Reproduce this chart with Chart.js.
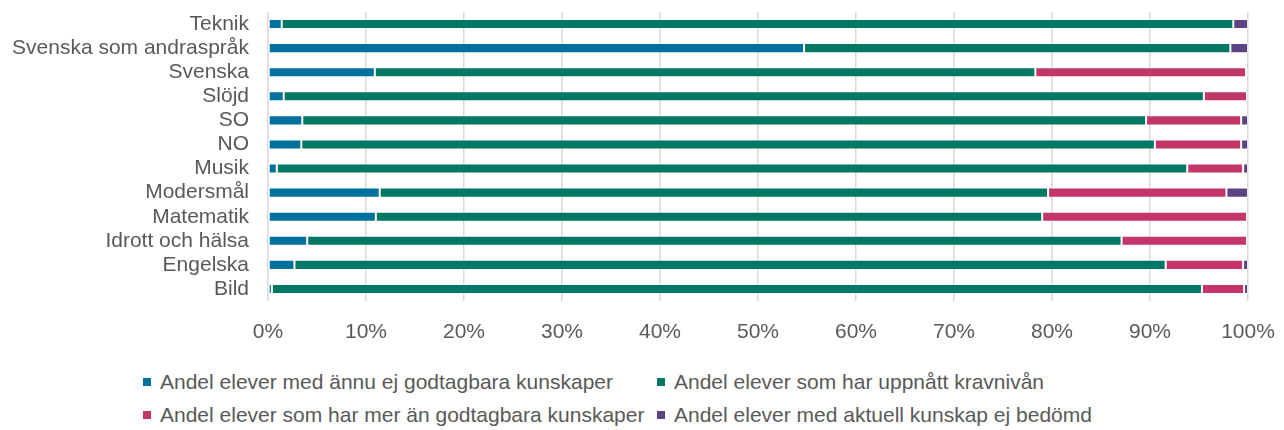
<!DOCTYPE html>
<html>
<head>
<meta charset="utf-8">
<script src="https://cdn.jsdelivr.net/npm/chart.js@4"></script>
<style>
  body { margin: 0; background: #fff; font-family: "Liberation Sans", Arial, sans-serif; }
  #wrap { position: relative; width: 1284px; height: 430px; }
  #chartBox { position: absolute; left: 0; top: 0; width: 1284px; height: 350px; }
  #legend { position: absolute; left: 143px; top: 365px; color: #595959; font-size: 21px; }
  .row { display: flex; height: 33px; align-items: center; }
  .item { display: flex; align-items: center; white-space: nowrap; }
  .item.first { width: 514px; }
  .box { width: 8px; height: 8px; margin-right: 9px; }
</style>
</head>
<body>
<div id="wrap">
  <div id="chartBox"><canvas id="barChart"></canvas></div>
  <div id="legend"></div>
</div>
<script>
const subjects = ['Teknik','Svenska som andraspråk','Svenska','Slöjd','SO','NO','Musik','Modersmål','Matematik','Idrott och hälsa','Engelska','Bild'];

const notYet   = [1.4, 54.7, 10.9, 1.6, 3.5, 3.4, 0.9, 11.4, 11.0, 4.0, 2.7, 0.4];
const reached  = [97.1, 43.5, 67.4, 93.9, 86.1, 87.1, 92.9, 68.2, 68.0, 83.1, 88.9, 94.9];
const above    = [0, 0, 21.5, 4.4, 9.7, 8.8, 5.7, 18.2, 20.9, 12.8, 7.9, 4.3];
const notRated = [1.5, 1.8, 0.2, 0.1, 0.7, 0.7, 0.5, 2.2, 0.1, 0.1, 0.5, 0.4];

const seriesLabels = [
  'Andel elever med ännu ej godtagbara kunskaper',
  'Andel elever som har uppnått kravnivån',
  'Andel elever som har mer än godtagbara kunskaper',
  'Andel elever med aktuell kunskap ej bedömd'
];
const colors = ['#00709C', '#007864', '#C3366A', '#5C4382'];

const ticksX = ['0%','10%','20%','30%','40%','50%','60%','70%','80%','90%','100%'];

const values = [notYet, reached, above, notRated];

const ctx = document.getElementById('barChart');
new Chart(ctx, {
  type: 'bar',
  data: {
    labels: subjects,
    datasets: values.map((v, i) => ({
      label: seriesLabels[i],
      data: v,
      backgroundColor: colors[i],
      borderColor: 'rgba(255,255,255,0.25)',
      borderWidth: 1,
      borderSkipped: false,
      categoryPercentage: 1,
      barPercentage: 0.42
    }))
  },
  options: {
    indexAxis: 'y',
    responsive: true,
    maintainAspectRatio: false,
    animation: false,
    layout: { padding: { left: 8, right: 0, top: 0, bottom: 0 } },
    plugins: {
      legend: { display: false },
      tooltip: { enabled: false }
    },
    scales: {
      x: {
        stacked: true,
        min: 0,
        max: 100,
        border: { display: false },
        grid: { color: '#d9d9d9', lineWidth: 1.5, drawTicks: false },
        afterFit: (s) => { s.height = 49; s.paddingRight = 36; s.paddingLeft = 0; },
        ticks: {
          stepSize: 10,
          padding: 19,
          color: '#595959',
          font: { family: '"Liberation Sans", Arial, sans-serif', size: 21 },
          callback: (v, i) => ticksX[i]
        }
      },
      y: {
        stacked: true,
        border: { display: false },
        grid: { display: false, drawTicks: false },
        afterFit: (s) => { s.width = 260; s.paddingTop = 12; s.paddingBottom = 0; },
        ticks: {
          autoSkip: false,
          padding: 19,
          color: '#595959',
          font: { family: '"Liberation Sans", Arial, sans-serif', size: 21 }
        }
      }
    }
  }
});

// legend in two rows, like the original
const legend = document.getElementById('legend');
[[0, 1], [2, 3]].forEach(pair => {
  const row = document.createElement('div');
  row.className = 'row';
  pair.forEach((idx, j) => {
    const item = document.createElement('div');
    item.className = 'item' + (j === 0 ? ' first' : '');
    item.innerHTML = '<span class="box" style="background:' + colors[idx] + '"></span>' + seriesLabels[idx];
    row.appendChild(item);
  });
  legend.appendChild(row);
});
</script>
</body>
</html>
